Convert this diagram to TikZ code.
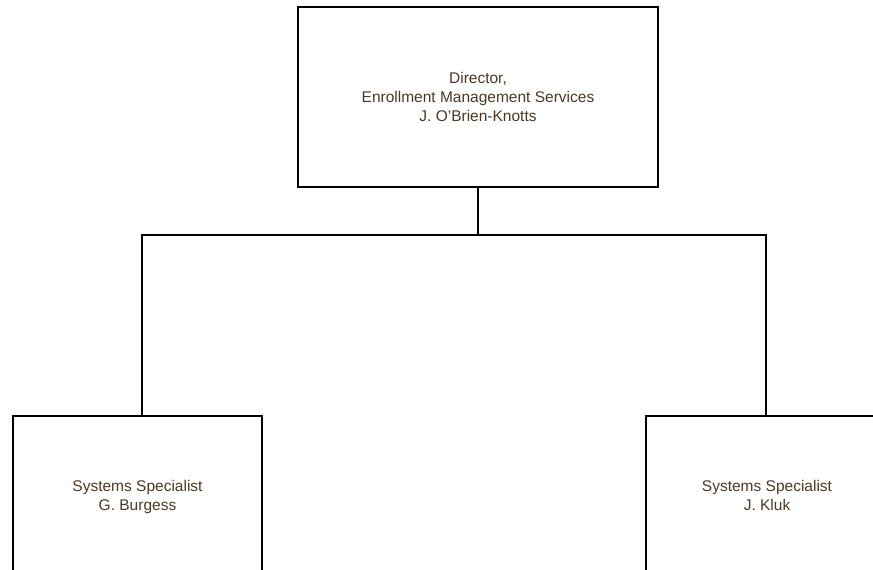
\documentclass[tikz,border=0pt]{standalone}
\usepackage{fontspec}
\setmainfont{Liberation Sans}
\usepackage{tikz}
\usetikzlibrary{positioning}
\definecolor{namebrown}{RGB}{78,56,34}

\begin{document}
\begin{tikzpicture}[
    x=1pt, y=1pt,
    orgbox/.style={rectangle, draw=black, line width=2pt, fill=white, inner sep=0pt, outer sep=0pt,
        text=namebrown, align=center, font=\fontsize{15.5}{19}\selectfont},
    link/.style={draw=black, line width=2pt}
]
\clip (0,0) rectangle (873,-570);
\useasboundingbox (0,0) rectangle (873,-570);

\node[orgbox, minimum width=360pt, minimum height=180pt] (director) at (478,-97) {Director,\\Enrollment Management Services\\J. O'Brien-Knotts};
\node[orgbox, minimum width=249pt, minimum height=164pt] (burgess) at (137.5,-498) {Systems Specialist\\G. Burgess\strut};
\node[orgbox, minimum width=242pt, minimum height=164pt] (kluk) at (767,-498) {Systems Specialist\\J. Kluk\strut};

% Connectors
\coordinate (bus) at (478,-235);
\draw[link] (director.south) -- (bus);
\draw[link] (bus) -| ([xshift=4.5pt]burgess.north);
\draw[link] (bus) -| ([xshift=-1pt]kluk.north);

\end{tikzpicture}
\end{document}
